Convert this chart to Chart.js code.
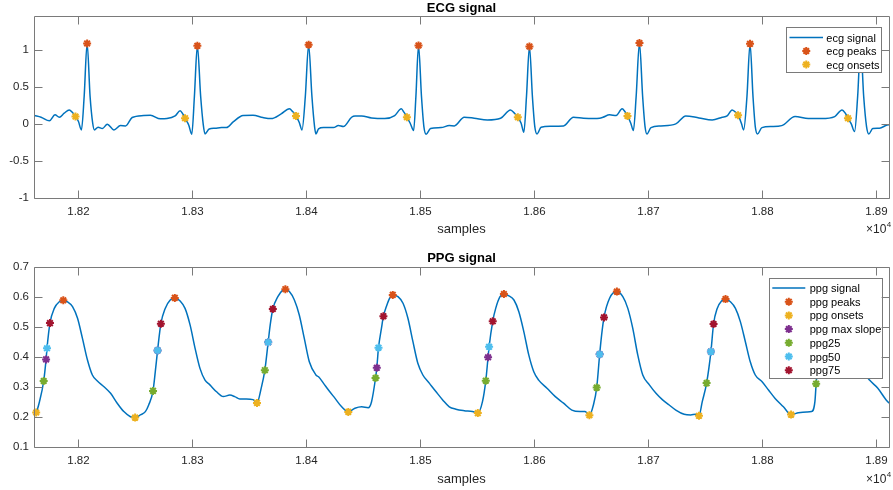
<!DOCTYPE html>
<html><head><meta charset="utf-8">
<script src="https://cdn.jsdelivr.net/npm/chart.js@4/dist/chart.umd.min.js"></script>
<style>
html,body{margin:0;padding:0;background:#fff;overflow:hidden;width:893px;height:490px;position:relative}
.w{position:absolute;left:0;width:895px;height:245px}
#w1{top:0}#w2{top:245px}
canvas{display:block}
</style></head><body>
<div class="w" id="w1"><canvas id="c1" width="895" height="245"></canvas></div>
<div class="w" id="w2"><canvas id="c2" width="895" height="245"></canvas></div>
<script>
// ---------------- DATA ----------------
const xRange = [18161, 18911];
const xTickStep = 100;
const ecgYRange = [-1, 1.46];
const ppgYRange = [0.1, 0.7];

const ecgX = [18161.4,18167.2,18174.5,18179.4,18183.2,18187.5,18191.9,18194.8,18197.4,18200.0,18202.6,18205.0,18207.6,18210.2,18212.5,18214.0,18217.2,18221.0,18225.3,18231.1,18236.9,18241.3,18247.1,18257.2,18263.1,18271.8,18277.6,18284.8,18289.2,18291.5,18293.5,18296.7,18299.4,18301.7,18304.3,18307.2,18309.5,18311.0,18314.7,18319.7,18325.5,18329.8,18335.7,18344.4,18353.1,18361.8,18369.1,18377.8,18385.0,18387.9,18390.8,18393.7,18396.1,18399.0,18401.9,18404.8,18407.1,18408.3,18410.6,18415.0,18423.7,18428.0,18432.4,18439.6,18442.6,18448.4,18457.1,18468.7,18477.4,18483.2,18485.5,18488.1,18491.0,18494.0,18496.0,18498.3,18500.9,18503.0,18505.0,18508.8,18518.1,18525.3,18529.7,18538.4,18547.1,18558.7,18570.3,18579.0,18582.5,18585.4,18588.3,18590.7,18593.0,18595.6,18598.2,18600.3,18602.3,18605.8,18613.9,18625.5,18634.2,18643.0,18651.7,18657.2,18660.1,18665.9,18671.7,18676.9,18679.3,18681.6,18684.5,18686.8,18689.2,18692.1,18694.9,18697.0,18698.7,18702.2,18710.9,18724.0,18732.7,18744.3,18755.9,18764.7,18769.0,18773.4,18775.7,18778.6,18781.5,18783.5,18786.4,18789.1,18791.7,18793.7,18795.7,18799.5,18808.2,18816.9,18828.6,18840.2,18851.8,18863.4,18869.8,18872.7,18875.0,18877.9,18880.8,18883.5,18886.1,18888.8,18891.3,18893.3,18896.8,18902.6,18909.3,18912.0];
const ecgY = [0.117,0.094,0.045,0.126,0.094,0.148,0.193,0.157,0.103,0.036,-0.077,0.373,1.090,0.373,0.013,-0.077,-0.041,-0.059,0.000,-0.077,-0.019,-0.023,0.090,0.117,0.121,0.072,0.076,0.112,0.180,0.139,0.081,-0.010,-0.136,0.373,1.058,0.373,-0.010,-0.131,-0.064,-0.055,-0.046,-0.046,0.031,0.117,0.121,0.090,0.076,0.139,0.207,0.171,0.112,0.022,-0.077,0.373,1.072,0.373,-0.032,-0.131,-0.064,-0.046,-0.046,-0.019,-0.032,0.094,0.112,0.112,0.085,0.076,0.117,0.207,0.162,0.094,0.013,-0.086,0.373,1.063,0.373,-0.032,-0.136,-0.059,-0.046,-0.019,-0.023,0.094,0.081,0.058,0.081,0.193,0.148,0.094,0.013,-0.109,0.373,1.049,0.373,-0.032,-0.131,-0.041,-0.027,-0.023,0.094,0.081,0.076,0.081,0.094,0.126,0.117,0.207,0.171,0.112,0.013,-0.086,0.373,1.094,0.373,-0.032,-0.131,-0.046,-0.023,0.004,0.112,0.085,0.058,0.094,0.112,0.193,0.171,0.121,0.013,-0.077,0.373,1.085,0.373,-0.032,-0.131,-0.046,-0.032,-0.019,0.103,0.076,0.076,0.103,0.193,0.148,0.081,0.004,-0.099,0.373,1.070,0.373,-0.032,-0.131,-0.059,-0.055,-0.010,-0.005];

const ecgPeakX = [18207.6,18304.3,18401.9,18498.3,18595.6,18692.1,18789.1,18886.1];
const ecgPeakY = [1.090,1.058,1.072,1.063,1.049,1.094,1.085,1.070];
const ecgOnsetX = [18197.4,18293.5,18390.8,18488.1,18585.4,18681.6,18778.6,18875.0];
const ecgOnsetY = [0.103,0.081,0.112,0.094,0.094,0.112,0.121,0.081];

const ppgX = [18161.4,18162.9,18165.8,18169.5,18171.6,18172.4,18175.0,18178.8,18183.2,18186.7,18190.4,18194.8,18199.2,18203.5,18207.9,18212.2,18216.6,18222.4,18228.2,18234.0,18239.8,18245.6,18249.7,18254.3,18258.7,18261.6,18265.4,18267.4,18269.4,18272.3,18276.1,18280.5,18284.5,18289.2,18293.5,18297.9,18302.3,18306.6,18311.0,18315.3,18321.1,18327.0,18332.8,18337.1,18341.5,18347.3,18353.1,18356.6,18360.3,18363.5,18366.4,18368.2,18370.5,18374.9,18379.2,18381.5,18385.0,18389.4,18393.7,18398.1,18402.5,18408.3,18410.6,18415.0,18419.3,18425.1,18430.9,18436.7,18442.5,18448.4,18454.2,18457.1,18460.6,18461.7,18463.2,18465.8,18467.5,18470.1,18473.0,18475.7,18480.3,18484.7,18489.0,18493.4,18497.7,18502.1,18507.9,18513.7,18519.5,18525.3,18531.1,18538.4,18545.6,18550.3,18554.4,18557.3,18559.3,18560.2,18563.4,18566.0,18569.8,18573.2,18577.6,18582.0,18586.3,18590.7,18595.0,18599.4,18603.7,18611.0,18618.3,18625.5,18632.8,18640.0,18644.4,18648.2,18651.7,18654.6,18657.2,18658.9,18661.0,18665.9,18672.3,18677.5,18681.9,18686.2,18690.6,18695.0,18700.8,18706.6,18712.4,18718.2,18724.0,18731.3,18737.1,18741.4,18744.3,18747.2,18751.0,18754.8,18757.1,18760.3,18764.1,18767.6,18771.9,18776.3,18780.6,18785.0,18789.3,18793.7,18799.5,18805.3,18811.1,18818.4,18825.1,18831.5,18838.8,18843.1,18846.0,18847.1,18849.5,18852.4,18857.0,18862.0,18866.3,18872.1,18877.9,18883.7,18889.5,18893.9,18901.2,18909.3,18912.0];
const ppgY = [0.210,0.216,0.252,0.321,0.393,0.430,0.514,0.563,0.585,0.590,0.585,0.569,0.530,0.463,0.391,0.341,0.321,0.302,0.280,0.247,0.219,0.202,0.199,0.208,0.219,0.241,0.288,0.352,0.423,0.512,0.563,0.591,0.598,0.588,0.563,0.508,0.430,0.363,0.324,0.308,0.285,0.269,0.274,0.269,0.261,0.261,0.259,0.248,0.297,0.357,0.450,0.508,0.561,0.602,0.624,0.627,0.619,0.591,0.541,0.463,0.385,0.341,0.335,0.313,0.291,0.263,0.235,0.218,0.230,0.235,0.232,0.252,0.331,0.365,0.432,0.497,0.537,0.569,0.597,0.608,0.602,0.580,0.530,0.452,0.380,0.341,0.313,0.285,0.258,0.235,0.227,0.222,0.219,0.214,0.252,0.322,0.400,0.435,0.520,0.563,0.602,0.611,0.605,0.591,0.552,0.485,0.408,0.352,0.324,0.297,0.269,0.247,0.224,0.219,0.219,0.207,0.241,0.299,0.410,0.474,0.533,0.597,0.619,0.602,0.563,0.497,0.408,0.341,0.308,0.280,0.258,0.241,0.224,0.210,0.208,0.210,0.205,0.252,0.314,0.419,0.511,0.563,0.588,0.594,0.585,0.563,0.519,0.452,0.385,0.341,0.319,0.291,0.263,0.235,0.209,0.215,0.218,0.219,0.252,0.312,0.408,0.519,0.585,0.608,0.597,0.552,0.474,0.397,0.347,0.324,0.297,0.254,0.245];

const ppgPeakX = [18186.7,18284.5,18381.5,18475.7,18573.2,18672.3,18767.6,18862.0];
const ppgPeakY = [0.590,0.598,0.627,0.608,0.611,0.619,0.594,0.608];
const ppgOnsetX = [18162.9,18249.7,18356.6,18436.7,18550.3,18648.2,18744.3,18825.1];
const ppgOnsetY = [0.216,0.199,0.248,0.218,0.214,0.207,0.205,0.209];
const ppgMaxSlopeX = [18171.6,18269.4,18366.4,18461.7,18559.3,18657.2,18754.8,18848.9];
const ppgMaxSlopeY = [0.393,0.423,0.450,0.365,0.400,0.410,0.419,0.385];
const ppg25X = [18169.5,18265.4,18363.5,18460.6,18557.3,18654.6,18751.0,18847.1];
const ppg25Y = [0.321,0.288,0.357,0.331,0.322,0.299,0.314,0.312];
const ppg50X = [18172.4,18269.4,18366.4,18463.2,18560.2,18657.2,18754.8,18849.5];
const ppg50Y = [0.430,0.423,0.450,0.432,0.435,0.410,0.419,0.408];
const ppg75X = [18175.0,18272.3,18370.5,18467.5,18563.4,18661.0,18757.1,18852.4];
const ppg75Y = [0.514,0.512,0.561,0.537,0.520,0.533,0.511,0.519];

// ---------------- STYLE ----------------
const FONT = '"Liberation Sans", Arial, Helvetica, sans-serif';
const AXC = '#262626';
const BOXC = '#7a7a7a';
const C = {blue:'#0072BD', orange:'#D95319', yellow:'#EDB120', purple:'#7E2F8E', green:'#77AC30', cyan:'#4DBEEE', red:'#A2142F'};
const MR = 4, MW = 2;

function pts(xs, ys){ return xs.map((x,i)=>({x:x, y:ys[i]})); }
function lineSet(label, xs, ys, color){
  return {label, data:pts(xs,ys), showLine:true, pointRadius:0, borderWidth:1.5, borderColor:color,
          backgroundColor:color, cubicInterpolationMode:'monotone', fill:false, order:20, _kind:'line'};
}
function markSet(label, xs, ys, color, order){
  return {label, data:pts(xs,ys), showLine:false, pointStyle:'star', pointRadius:MR, pointBorderWidth:MW,
          pointBorderColor:color, pointBackgroundColor:color, borderColor:color, backgroundColor:color,
          order, clip:false, _kind:'mark'};
}
function drawStar(ctx, x, y, r, color, w){
  ctx.save(); ctx.strokeStyle=color; ctx.lineWidth=w; ctx.beginPath();
  for (let k=0;k<4;k++){ const a=k*Math.PI/4; const dx=Math.cos(a)*r, dy=Math.sin(a)*r;
    ctx.moveTo(x-dx,y-dy); ctx.lineTo(x+dx,y+dy); }
  ctx.stroke(); ctx.restore();
}

function deco(o){
  return {
    id:'deco',
    afterDatasetsDraw(chart){
      const ctx=chart.ctx, a=chart.chartArea, xs=chart.scales.x, ys=chart.scales.y;
      ctx.save();
      const L=Math.round(a.left)+0.5, T=Math.round(a.top)+0.5, R=Math.round(a.right)+0.5, B=Math.round(a.bottom)+0.5;
      ctx.strokeStyle=BOXC; ctx.lineWidth=1; ctx.beginPath();
      const TL=8;
      xs.ticks.forEach(t=>{ const p=Math.round(xs.getPixelForValue(t.value))+0.5;
        ctx.moveTo(p,B); ctx.lineTo(p,B-TL); ctx.moveTo(p,T); ctx.lineTo(p,T+TL); });
      ys.ticks.forEach(t=>{ const p=Math.round(ys.getPixelForValue(t.value))+0.5;
        ctx.moveTo(L,p); ctx.lineTo(L+TL,p); ctx.moveTo(R,p); ctx.lineTo(R-TL,p); });
      ctx.moveTo(L,T); ctx.lineTo(R,T); ctx.lineTo(R,B); ctx.lineTo(L,B); ctx.closePath();
      ctx.stroke();
      // title
      const cx=(a.left+a.right)/2;
      ctx.fillStyle='#000'; ctx.font='bold 13px '+FONT; ctx.textAlign='center'; ctx.textBaseline='middle';
      ctx.fillText(o.title, cx, o.titleY);
      // x label
      ctx.fillStyle=AXC; ctx.font='13px '+FONT;
      ctx.fillText('samples', cx, o.xlabelY);
      // exponent
      ctx.textAlign='left'; ctx.font='12px '+FONT;
      const ex=866;
      ctx.fillText('\u00d710', ex, o.expY);
      const w=ctx.measureText('\u00d710').width;
      ctx.font='8px '+FONT;
      ctx.fillText('4', ex+w+0.5, o.expY-5);
      // legend
      const lg=o.legend;
      ctx.fillStyle='#fff'; ctx.fillRect(lg.x, lg.y, lg.w, lg.h);
      ctx.strokeStyle=BOXC; ctx.lineWidth=1;
      ctx.strokeRect(Math.round(lg.x)+0.5, Math.round(lg.y)+0.5, Math.round(lg.w), Math.round(lg.h));
      const items = chart.data.datasets;
      items.forEach((ds,i)=>{
        const ry = lg.row0 + i*lg.dy;
        const mid = (lg.lx0+lg.lx1)/2;
        if (ds._kind==='line'){
          ctx.strokeStyle=ds.borderColor; ctx.lineWidth=1.5; ctx.beginPath();
          ctx.moveTo(lg.lx0, ry); ctx.lineTo(lg.lx1, ry); ctx.stroke();
        } else {
          drawStar(ctx, mid, ry, MR, ds.borderColor, MW);
        }
        ctx.fillStyle='#000'; ctx.font='11px '+FONT; ctx.textAlign='left'; ctx.textBaseline='middle';
        ctx.fillText(ds.label, lg.tx, ry+1);
      });
      ctx.restore();
    }
  };
}

function axisOpts(yr, ystep, yfmt, xH){
  return {
    x:{type:'linear', min:xRange[0], max:xRange[1], grid:{display:false, drawTicks:false}, border:{display:false},
       ticks:{stepSize:xTickStep, includeBounds:false, autoSkip:false, maxRotation:0, minRotation:0, padding:7,
              color:AXC, font:{family:FONT, size:11.5}, callback:v=>(v/1e4).toFixed(2)},
       afterFit:s=>{ s.height=xH; s.paddingLeft=0; s.paddingRight=0; }},
    y:{type:'linear', min:yr[0], max:yr[1], grid:{display:false, drawTicks:false}, border:{display:false},
       ticks:{stepSize:ystep, includeBounds:false, autoSkip:false, padding:5, color:AXC,
              font:{family:FONT, size:11.5}, callback:yfmt},
       afterFit:s=>{ s.width=34; s.paddingTop=0; s.paddingBottom=0; }}
  };
}

const common = {responsive:false, animation:false, events:[],
  plugins:{legend:{display:false}, tooltip:{enabled:false}, title:{display:false}}};

new Chart(document.getElementById('c1'), {
  type:'scatter',
  data:{datasets:[
    lineSet('ecg signal', ecgX, ecgY, C.blue),
    markSet('ecg peaks', ecgPeakX, ecgPeakY, C.orange, 6),
    markSet('ecg onsets', ecgOnsetX, ecgOnsetY, C.yellow, 5)
  ]},
  options:Object.assign({}, common, {
    layout:{padding:{top:16, right:1, bottom:0, left:0}},
    scales:axisOpts(ecgYRange, 0.5, v=>String(Math.round(v*10)/10), 46.7)
  }),
  plugins:[deco({title:'ECG signal', titleY:8.5, xlabelY:229, expY:230,
    legend:{x:785.7, y:27.3, w:94.6, h:45.4, row0:37.5, dy:13.5, lx0:789.5, lx1:823, tx:826.3}})]
});

new Chart(document.getElementById('c2'), {
  type:'scatter',
  data:{datasets:[
    lineSet('ppg signal', ppgX, ppgY, C.blue),
    markSet('ppg peaks', ppgPeakX, ppgPeakY, C.orange, 6),
    markSet('ppg onsets', ppgOnsetX, ppgOnsetY, C.yellow, 5),
    markSet('ppg max slope', ppgMaxSlopeX, ppgMaxSlopeY, C.purple, 4),
    markSet('ppg25', ppg25X, ppg25Y, C.green, 3),
    markSet('ppg50', ppg50X, ppg50Y, C.cyan, 2),
    markSet('ppg75', ppg75X, ppg75Y, C.red, 1)
  ]},
  options:Object.assign({}, common, {
    layout:{padding:{top:22.3, right:1, bottom:0, left:0}},
    scales:axisOpts(ppgYRange, 0.1, v=>v.toFixed(1), 42.7)
  }),
  plugins:[deco({title:'PPG signal', titleY:13.5, xlabelY:234.3, expY:235,
    legend:{x:768.7, y:33.3, w:112.6, h:100, row0:43, dy:13.7, lx0:772.3, lx1:805.3, tx:809.7}})]
});
</script>
</body></html>
